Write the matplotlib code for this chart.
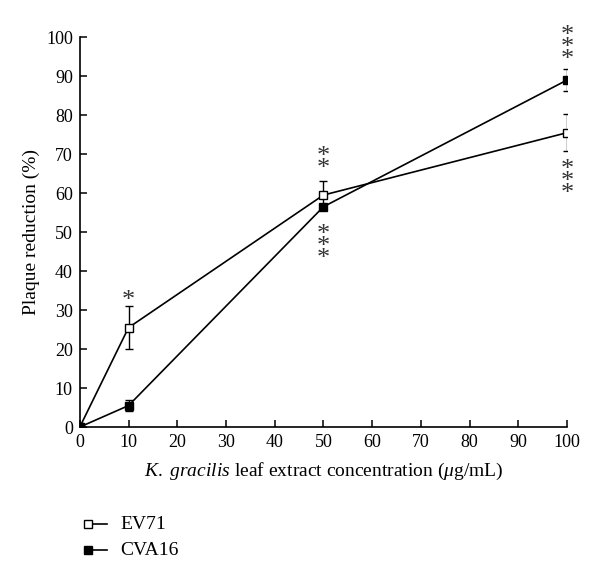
import matplotlib.pyplot as plt
from matplotlib.lines import Line2D

plt.rcParams['font.family'] = ['Liberation Serif', 'DejaVu Serif']
plt.rcParams['mathtext.fontset'] = 'custom'
plt.rcParams['mathtext.rm'] = 'Liberation Serif'
plt.rcParams['mathtext.it'] = 'Liberation Serif:italic'

conc = [0, 10, 50, 100]
ev71 = [0, 25.5, 59.5, 75.5]
ev71_err = [0, 5.5, 3.5, 4.7]
cva16 = [0, 5.5, 56.5, 89]
cva16_err = [0, 1.5, 0.8, 2.8]

# significance marks: (x, y of star stack centre, count)
ev71_stars = [(10, 32.3, 1), (50, 67.8, 2), (100, 62.8, 3)]
cva16_stars = [(50, 46.2, 3), (100, 97.2, 3)]

fig = plt.figure(figsize=(6, 5.81), dpi=100)
ax = fig.add_axes([0.133, 0.265, 0.812, 0.671])

style = dict(color='black', lw=1.2, marker='s', ms=6, mec='black', mew=1.0,
             capsize=3, elinewidth=1.0, capthick=1.0, zorder=3)
ax.errorbar(conc, ev71, yerr=ev71_err, mfc='white', **style)
ax.errorbar(conc, cva16, yerr=cva16_err, mfc='black', **style)

for x, y, n in ev71_stars + cva16_stars:
    ax.text(x, y, '\n'.join(['*'] * n), ha='center', va='center',
            fontsize=19, linespacing=0.40, color='#333333')

ax.set_xlim(0, 100)
ax.set_ylim(0, 100)
ax.set_xticks(range(0, 101, 10))
ax.set_yticks(range(0, 101, 10))
ax.spines['top'].set_visible(False)
ax.spines['right'].set_visible(False)
ax.tick_params(direction='in', length=5, width=1.1, labelsize=13, pad=5)
ax.spines['left'].set_linewidth(1.2)
ax.spines['bottom'].set_linewidth(1.2)
ax.set_ylabel('Plaque reduction (%)', fontsize=14, labelpad=4)
ax.set_xlabel(r'$K.\ gracilis$ leaf extract concentration ($\mu$g/mL)',
              fontsize=14, labelpad=7)

# legend drawn below the axes, marker at the left end of each handle
labels = ['EV71', 'CVA16']
faces = ['white', 'black']
for i, (lab, fc) in enumerate(zip(labels, faces)):
    yf = 0.098 - i * 0.045
    fig.add_artist(Line2D([0.147, 0.178], [yf, yf], color='black', lw=1.2,
                          transform=fig.transFigure))
    fig.add_artist(Line2D([0.147], [yf], marker='s', ms=6, mfc=fc, mec='black',
                          mew=1.0, transform=fig.transFigure))
    fig.text(0.2, yf, lab, va='center', ha='left', fontsize=14)

fig.savefig('out.png')
